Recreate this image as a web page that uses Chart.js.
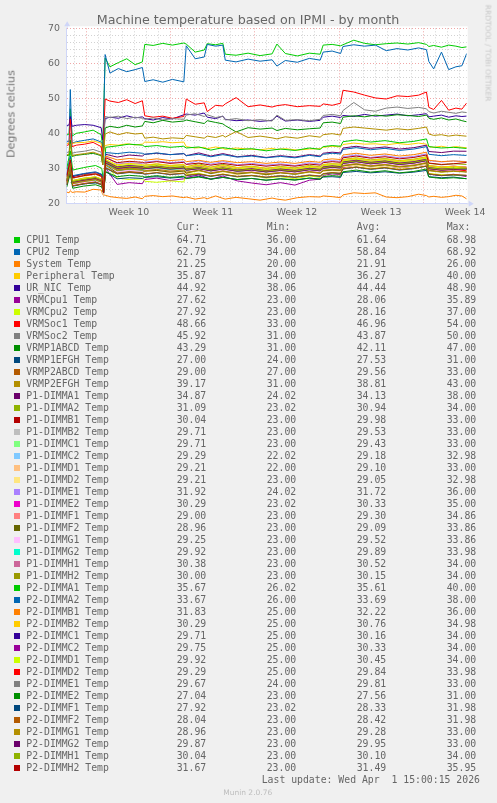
<!DOCTYPE html>
<html>
<head>
<meta charset="utf-8">
<script src="https://cdn.jsdelivr.net/npm/chart.js@4"></script>
<style>
  html, body { margin: 0; padding: 0; }
  body { width: 497px; height: 803px; background: #f0f0f0; position: relative; overflow: hidden; }
  #plot { position: absolute; left: 0; top: 0; }
  .t { position: absolute; white-space: pre; color: #666; }
  .sans { font-family: "DejaVu Sans", sans-serif; }
  .mono { font-family: "DejaVu Sans Mono", monospace; font-size: 9.8px; line-height: 12px; }
  .sw { position: absolute; width: 6px; height: 6px; }
</style>
</head>
<body>
<canvas id="plot" width="497" height="222"></canvas>
<div class="t sans" style="left:248px; top:19px; transform:translate(-50%,-50%); font-size:12.7px;">Machine temperature based on IPMI - by month</div>
<div class="t sans" style="left:11px; top:114px; transform:translate(-50%,-50%) rotate(-90deg); font-size:11.1px; color:#707070;">Degrees celcius</div>
<div class="t sans" style="left:487.5px; top:53px; transform:translate(-50%,-50%) rotate(90deg); font-size:7.5px; color:#c8c8c8;">RRDTOOL / TOBI OETIKER</div>
<div id="legend"></div>
<script>
// time axis in days from the left edge of the graph (33 day munin month view)
const xMax = 33.3;
const weekLabels = ['Week 10', 'Week 11', 'Week 12', 'Week 13', 'Week 14'];
const weekLabelDays = [5.17, 12.17, 19.17, 26.17, 33.17];
const weekStartDays = [1.67, 8.67, 15.67, 22.67, 29.67];
const firstDayLine = 0.67;

const mainDays = [0, 0.2, 0.3, 0.45, 0.8, 1.5, 2.2, 2.87, 3.0, 3.2, 3.6, 4.3, 5.0, 5.7, 6.3, 6.5, 7.2, 8.0, 8.8, 9.75,
  9.95, 10.7, 11.45, 11.7, 12.4, 13.0, 13.2, 14.1, 15.1, 16.1, 17.1, 17.5, 18.2, 19.2, 20.2, 21.1, 21.35, 22.1, 22.8, 23.0,
  23.9, 24.8, 25.7, 26.6, 27.5, 28.4, 29.3, 29.95, 30.15, 30.55, 31.2, 31.8, 32.4, 32.9, 33.3];
const clusterDays = [0, 0.3, 0.5, 1.4, 2.4, 2.92, 3.07, 3.25, 4.2, 5.2, 6.3, 6.5, 7.5, 8.6, 9.75, 9.95, 11.0, 12.0, 13.0, 14.2,
  15.4, 16.6, 17.8, 19.0, 20.2, 21.1, 21.35, 22.1, 22.8, 23.0, 24.1, 25.3, 26.5, 27.7, 28.9, 29.95, 30.15, 31.2, 32.2, 33.3];

const cpu1Temp = [39.5, 39.8, 47.0, 39.2, 40.0, 40.4, 40.9, 39.6, 36.0, 61.5, 59.0, 60.2, 61.3, 59.6, 60.4, 65.4, 65.1, 65.7, 65.2, 65.8,
  65.5, 63.2, 63.8, 65.6, 65.3, 65.7, 62.6, 62.3, 62.9, 62.2, 62.7, 65.5, 62.8, 62.1, 62.9, 62.6, 65.2, 65.4, 65.0, 65.3,
  66.6, 65.7, 65.3, 65.6, 65.8, 65.5, 65.9, 65.4, 64.8, 65.1, 64.6, 65.2, 64.9, 64.5, 64.7];
const cpu2Temp = [37.5, 37.8, 52.5, 37.2, 37.6, 38.0, 38.4, 37.5, 34.0, 62.5, 57.2, 58.5, 57.6, 58.2, 58.8, 54.8, 55.3, 54.6, 55.4, 54.7,
  65.0, 61.3, 61.8, 65.4, 64.9, 65.2, 60.9, 60.4, 61.2, 60.6, 61.0, 59.2, 60.8, 60.3, 61.4, 60.9, 63.2, 63.5, 62.8, 64.8,
  65.3, 64.9, 65.2, 63.6, 64.2, 63.8, 64.4, 63.9, 60.5, 58.4, 63.2, 58.2, 59.0, 59.3, 62.8];
const systemTemp = [23.2, 23.0, 23.6, 23.1, 23.3, 23.2, 24.0, 23.8, 22.5, 22.3, 21.9, 21.6, 21.4, 21.8, 21.3, 22.0, 22.2, 21.9, 22.1, 21.6,
  21.8, 21.2, 21.6, 21.3, 22.1, 21.4, 21.2, 21.7, 21.3, 20.9, 21.5, 21.2, 20.9, 21.6, 21.9, 21.8, 22.1, 21.9, 21.6, 22.4,
  23.0, 22.8, 23.0, 21.8, 21.6, 21.9, 22.6, 22.2, 21.8, 22.0, 21.7, 21.9, 22.3, 22.1, 21.25];
const peripheralTemp = [37.0, 37.2, 39.0, 37.1, 37.3, 37.4, 37.8, 37.2, 34.0, 36.5, 36.8, 36.6, 37.0, 36.7, 36.9, 37.5, 37.4, 37.6, 37.3, 37.5,
  36.2, 35.8, 36.0, 35.6, 36.1, 35.7, 35.4, 35.8, 35.5, 35.3, 35.7, 35.4, 35.6, 35.2, 35.5, 35.6, 36.0, 36.3, 36.1, 36.8,
  37.2, 36.9, 37.0, 36.7, 37.1, 36.8, 37.2, 36.9, 36.2, 36.0, 36.3, 35.9, 36.2, 36.0, 35.87];
const urNicTemp = [42.2, 42.4, 44.8, 42.0, 42.3, 42.5, 42.3, 41.6, 38.1, 44.2, 44.6, 44.3, 45.0, 44.4, 44.7, 44.2, 43.8, 44.5, 44.1, 45.3,
  45.5, 45.2, 45.8, 44.6, 44.2, 44.9, 44.0, 43.6, 43.8, 43.4, 43.7, 44.9, 43.5, 43.8, 43.4, 43.7, 44.6, 44.9, 44.5, 45.1,
  44.8, 45.4, 44.9, 45.2, 45.5, 45.0, 45.3, 45.6, 44.7, 44.9, 45.2, 44.6, 45.0, 44.8, 44.92];
const vrmCpu1Temp = [25.6, 31.0, 25.2, 25.8, 26.0, 25.4, 23.0, 30.0, 25.4, 25.9, 25.6, 26.8, 27.2, 26.5, 27.0, 27.4, 28.1, 26.9, 27.8, 26.4,
  25.8, 25.3, 25.9, 25.2, 26.6, 26.9, 28.0, 28.4, 28.2, 30.2, 31.0, 30.4, 30.8, 30.1, 30.6, 31.2, 28.4, 27.9, 28.3, 27.62];
const vrmCpu2Temp = [26.2, 32.0, 25.8, 26.4, 26.7, 26.0, 23.0, 31.0, 27.2, 26.8, 27.0, 26.3, 26.0, 26.4, 26.1, 28.2, 28.6, 27.7, 28.4, 27.5,
  27.9, 27.2, 27.6, 27.0, 27.8, 27.4, 28.3, 28.6, 28.4, 29.8, 30.4, 29.9, 30.3, 29.7, 30.1, 30.6, 28.5, 28.2, 28.0, 27.92];
const vrmSoc1Temp = [36.5, 36.8, 44.0, 36.2, 36.6, 36.9, 37.4, 36.2, 33.0, 49.8, 49.2, 48.8, 49.6, 48.5, 49.3, 45.0, 44.6, 44.9, 44.3, 44.8,
  49.8, 48.3, 48.7, 46.2, 48.0, 47.8, 48.4, 50.2, 47.6, 48.1, 47.5, 47.9, 48.2, 47.6, 47.9, 47.7, 48.4, 48.0, 48.6, 52.3,
  51.8, 50.9, 50.1, 49.8, 50.7, 50.5, 50.9, 51.8, 47.4, 46.8, 49.4, 46.6, 47.2, 46.9, 48.66];
const vrmSoc2Temp = [34.5, 34.7, 40.0, 34.3, 34.6, 34.9, 35.4, 34.6, 31.0, 44.8, 44.5, 44.9, 44.2, 44.6, 44.3, 44.0, 44.4, 43.8, 44.2, 44.0,
  45.2, 45.6, 44.8, 45.3, 44.5, 44.9, 43.8, 44.2, 43.6, 43.9, 43.5, 45.2, 43.7, 43.9, 43.6, 44.0, 45.1, 45.4, 45.0, 46.5,
  48.8, 46.7, 46.3, 47.2, 47.5, 47.1, 47.4, 47.0, 46.2, 45.8, 46.3, 46.0, 45.7, 46.1, 45.92];
const vrmP1abcdTemp = [33.6, 33.8, 38.0, 33.4, 33.7, 34.0, 34.3, 33.6, 31.0, 41.5, 42.0, 41.6, 42.3, 41.8, 42.1, 43.4, 43.0, 43.7, 43.2, 43.5,
  43.8, 43.3, 42.8, 43.6, 43.1, 42.7, 42.2, 40.4, 41.6, 41.2, 41.5, 40.8, 41.4, 41.0, 41.3, 41.5, 43.0, 43.2, 42.8, 44.6,
  45.0, 44.7, 45.2, 44.9, 45.3, 45.1, 44.8, 45.2, 44.3, 44.0, 44.4, 43.8, 44.1, 43.6, 43.29];
const vrmP1efghTemp = [25.4, 29.0, 25.1, 25.6, 25.8, 25.3, 24.0, 29.0, 27.0, 27.3, 27.1, 27.4, 27.6, 27.2, 27.5, 27.1, 27.7, 26.9, 27.4, 26.8,
  27.1, 26.6, 27.0, 26.7, 27.2, 26.9, 27.5, 27.6, 27.4, 28.8, 29.1, 28.7, 29.0, 28.6, 28.9, 29.4, 27.6, 27.3, 27.5, 27.00];
const vrmP2abcdTemp = [28.0, 30.5, 27.8, 28.2, 28.4, 28.1, 27.0, 31.0, 29.3, 29.6, 29.4, 29.8, 29.9, 29.5, 29.7, 29.2, 29.8, 29.0, 29.6, 28.9,
  29.2, 28.8, 29.1, 28.7, 29.3, 29.0, 29.7, 29.9, 29.8, 31.0, 31.4, 30.9, 31.2, 30.8, 31.1, 31.6, 29.6, 29.3, 29.5, 29.00];
const vrmP2efghTemp = [33.8, 34.0, 37.0, 33.6, 33.9, 34.2, 34.6, 33.8, 31.0, 39.8, 40.4, 39.6, 40.2, 39.8, 40.0, 38.6, 38.9, 38.4, 38.7, 38.5,
  39.4, 39.0, 38.6, 39.2, 38.8, 39.4, 38.9, 40.5, 38.8, 39.2, 38.7, 38.4, 39.0, 38.6, 39.3, 38.9, 39.6, 39.9, 39.5, 41.4,
  41.8, 41.5, 41.2, 40.9, 41.3, 41.0, 41.4, 41.8, 39.8, 39.4, 39.6, 39.2, 39.5, 39.3, 39.17];
const p1DimmA1 = [28.0, 33.0, 27.6, 28.4, 28.8, 28.2, 24.0, 34.0, 33.2, 33.8, 33.5, 34.0, 34.3, 33.9, 34.2, 33.6, 34.4, 33.5, 34.2, 33.3,
  33.7, 33.1, 33.6, 33.2, 33.9, 33.5, 34.3, 34.6, 34.4, 35.8, 36.3, 35.7, 36.1, 35.5, 35.9, 36.6, 34.8, 34.5, 34.9, 34.87];
const p1DimmA2 = [26.8, 31.5, 26.5, 27.2, 27.5, 26.9, 23.0, 32.0, 30.3, 30.7, 30.5, 30.9, 31.2, 30.8, 31.0, 30.4, 31.3, 30.3, 31.1, 30.2,
  30.6, 30.0, 30.5, 30.1, 30.8, 30.4, 31.1, 31.3, 31.2, 32.5, 33.0, 32.4, 32.8, 32.2, 32.6, 33.3, 31.4, 31.0, 31.3, 31.09];
const p1DimmB1 = [26.2, 31.0, 25.9, 26.6, 26.9, 26.3, 23.0, 31.5, 29.4, 29.8, 29.6, 30.0, 30.3, 29.9, 30.1, 29.5, 30.4, 29.4, 30.2, 29.3,
  29.7, 29.1, 29.6, 29.2, 29.9, 29.5, 30.2, 30.4, 30.3, 31.6, 32.1, 31.5, 31.9, 31.3, 31.7, 32.4, 30.5, 30.1, 30.4, 30.04];
const p1DimmB2 = [25.8, 30.5, 25.5, 26.2, 26.5, 25.9, 23.0, 31.0, 29.0, 29.4, 29.1, 29.5, 29.8, 29.4, 29.7, 29.0, 29.9, 28.9, 29.7, 28.8,
  29.2, 28.6, 29.1, 28.7, 29.4, 29.0, 29.7, 29.9, 29.8, 31.1, 31.6, 31.0, 31.4, 30.8, 31.2, 31.9, 30.0, 29.6, 29.9, 29.71];
const p1DimmC1 = [25.7, 30.4, 25.4, 26.1, 26.4, 25.8, 23.0, 31.0, 28.9, 29.3, 29.0, 29.4, 29.7, 29.3, 29.6, 28.9, 29.8, 28.8, 29.6, 28.7,
  29.1, 28.5, 29.0, 28.6, 29.3, 28.9, 29.6, 29.8, 29.7, 31.0, 31.5, 30.9, 31.3, 30.7, 31.1, 31.8, 29.9, 29.5, 29.8, 29.71];
const p1DimmC2 = [25.2, 29.8, 25.0, 25.7, 26.1, 25.5, 22.0, 30.5, 28.8, 29.0, 28.6, 29.3, 29.5, 29.0, 29.4, 28.5, 29.6, 28.4, 29.1, 28.6,
  28.8, 28.3, 28.9, 28.2, 29.0, 28.7, 29.4, 29.5, 29.6, 30.6, 31.2, 30.5, 31.0, 30.4, 30.9, 31.5, 29.6, 29.1, 29.5, 29.29];
const p1DimmD1 = [25.4, 29.6, 25.1, 25.6, 26.0, 25.3, 22.0, 30.0, 28.5, 29.1, 28.8, 29.0, 29.4, 28.8, 29.2, 28.6, 29.5, 28.5, 29.0, 28.3,
  28.9, 28.2, 28.7, 28.4, 28.9, 28.5, 29.3, 29.4, 29.3, 30.5, 31.0, 30.6, 30.8, 30.2, 30.7, 31.3, 29.5, 29.0, 29.4, 29.21];
const p1DimmD2 = [25.3, 29.5, 25.0, 25.8, 26.0, 25.4, 23.0, 30.0, 28.6, 28.9, 28.7, 29.1, 29.3, 28.9, 29.0, 28.4, 29.3, 28.6, 29.1, 28.2,
  28.7, 28.1, 28.8, 28.3, 28.8, 28.6, 29.2, 29.3, 29.2, 30.4, 30.9, 30.3, 30.7, 30.3, 30.6, 31.2, 29.4, 29.0, 29.3, 29.21];
const p1DimmE1 = [27.5, 33.0, 27.2, 27.9, 28.3, 27.6, 24.0, 33.5, 31.2, 31.6, 31.3, 31.8, 32.1, 31.6, 31.9, 31.2, 32.2, 31.2, 31.9, 31.0,
  31.4, 30.9, 31.3, 30.8, 31.6, 31.2, 31.9, 32.2, 32.0, 33.3, 33.8, 33.1, 33.6, 33.0, 33.4, 34.1, 32.2, 31.8, 32.1, 31.92];
const p1DimmE2 = [26.5, 32.0, 26.2, 26.8, 27.2, 26.6, 23.0, 32.5, 29.8, 30.2, 29.9, 30.3, 30.6, 30.1, 30.5, 29.8, 30.7, 29.7, 30.4, 29.6,
  30.0, 29.4, 29.9, 29.5, 30.2, 29.8, 30.5, 30.8, 30.6, 31.9, 32.4, 31.7, 32.2, 31.6, 32.0, 32.7, 30.7, 30.3, 30.6, 30.29];
const p1DimmF1 = [25.5, 31.5, 25.2, 25.9, 26.2, 25.6, 23.0, 32.0, 28.8, 29.2, 28.9, 29.3, 29.6, 29.1, 29.4, 28.8, 29.7, 28.7, 29.4, 28.6,
  29.0, 28.4, 28.9, 28.5, 29.2, 28.8, 29.5, 29.7, 29.6, 30.9, 31.4, 30.8, 31.2, 30.6, 31.0, 31.7, 29.6, 29.2, 29.4, 29.00];
const p1DimmF2 = [25.2, 30.5, 25.0, 25.6, 26.0, 25.4, 23.0, 31.0, 28.6, 29.0, 28.8, 29.2, 29.4, 28.9, 29.2, 28.6, 29.5, 28.5, 29.2, 28.4,
  28.8, 28.2, 28.7, 28.3, 29.0, 28.6, 29.3, 29.5, 29.4, 30.7, 31.2, 30.6, 31.0, 30.4, 30.8, 31.5, 29.4, 29.0, 29.3, 28.96];
const p1DimmG1 = [25.6, 30.8, 25.3, 25.9, 26.3, 25.7, 23.0, 31.2, 29.0, 29.4, 29.1, 29.5, 29.8, 29.3, 29.6, 29.0, 29.9, 28.9, 29.6, 28.8,
  29.2, 28.6, 29.1, 28.7, 29.4, 29.0, 29.7, 29.9, 29.8, 31.1, 31.6, 31.0, 31.4, 30.8, 31.2, 31.9, 29.8, 29.4, 29.6, 29.25];
const p1DimmG2 = [26.0, 31.2, 25.8, 26.4, 26.7, 26.1, 23.0, 31.5, 29.4, 29.8, 29.5, 29.9, 30.2, 29.7, 30.0, 29.4, 30.3, 29.3, 30.0, 29.2,
  29.6, 29.0, 29.5, 29.1, 29.8, 29.4, 30.1, 30.3, 30.2, 31.5, 32.0, 31.4, 31.8, 31.2, 31.6, 32.3, 30.3, 29.9, 30.1, 29.92];
const p1DimmH1 = [26.6, 31.8, 26.3, 27.0, 27.3, 26.7, 23.0, 32.0, 30.0, 30.4, 30.1, 30.5, 30.8, 30.3, 30.6, 30.0, 30.9, 29.9, 30.6, 29.8,
  30.2, 29.6, 30.1, 29.7, 30.4, 30.0, 30.7, 30.9, 30.8, 32.1, 32.6, 32.0, 32.4, 31.8, 32.2, 32.9, 30.8, 30.4, 30.6, 30.38];
const p1DimmH2 = [26.3, 31.5, 26.0, 26.6, 27.0, 26.4, 23.0, 31.8, 29.6, 30.0, 29.8, 30.2, 30.4, 30.0, 30.3, 29.6, 30.5, 29.6, 30.3, 29.5,
  29.9, 29.3, 29.8, 29.4, 30.1, 29.7, 30.4, 30.6, 30.5, 31.8, 32.3, 31.7, 32.1, 31.5, 31.9, 32.6, 30.5, 30.1, 30.3, 30.00];
const p2DimmA1 = [29.8, 35.0, 29.5, 30.2, 30.8, 30.0, 26.0, 36.0, 36.4, 36.9, 36.6, 36.2, 36.5, 36.0, 36.3, 35.8, 36.1, 35.2, 35.9, 35.3,
  35.6, 35.0, 35.5, 35.1, 35.8, 35.4, 36.2, 36.5, 36.3, 37.6, 38.1, 37.5, 37.9, 37.3, 37.7, 38.4, 36.2, 35.8, 36.0, 35.67];
const p2DimmA2 = [28.2, 33.5, 27.9, 28.5, 29.0, 28.3, 26.0, 34.5, 34.2, 34.6, 34.3, 34.0, 34.4, 33.9, 34.2, 33.6, 34.0, 33.3, 33.9, 33.2,
  33.5, 33.0, 33.4, 33.0, 33.7, 33.3, 34.0, 34.3, 34.1, 35.4, 35.9, 35.3, 35.7, 35.1, 35.5, 36.2, 34.0, 33.6, 33.9, 33.67];
const p2DimmB1 = [27.5, 32.5, 27.2, 27.8, 28.3, 27.6, 25.0, 33.5, 32.4, 32.8, 32.5, 32.3, 32.7, 32.2, 32.5, 31.9, 32.3, 31.7, 32.2, 31.6,
  31.9, 31.4, 31.8, 31.4, 32.0, 31.7, 32.4, 32.7, 32.5, 33.8, 34.3, 33.7, 34.1, 33.5, 33.9, 34.6, 32.3, 31.9, 32.1, 31.83];
const p2DimmB2 = [26.8, 31.5, 26.5, 27.1, 27.6, 26.9, 25.0, 32.5, 31.0, 31.4, 31.1, 30.9, 31.3, 30.8, 31.1, 30.5, 30.9, 30.3, 30.8, 30.2,
  30.5, 30.0, 30.4, 30.0, 30.6, 30.3, 31.0, 31.3, 31.1, 32.4, 32.9, 32.3, 32.7, 32.1, 32.5, 33.2, 30.8, 30.4, 30.6, 30.29];
const p2DimmC1 = [26.4, 31.0, 26.1, 26.7, 27.2, 26.5, 25.0, 32.0, 30.4, 30.8, 30.5, 30.3, 30.7, 30.2, 30.5, 29.9, 30.3, 29.7, 30.2, 29.6,
  29.9, 29.4, 29.8, 29.4, 30.0, 29.7, 30.4, 30.7, 30.5, 31.8, 32.3, 31.7, 32.1, 31.5, 31.9, 32.6, 30.2, 29.8, 30.0, 29.71];
const p2DimmC2 = [26.5, 31.2, 26.2, 26.8, 27.3, 26.6, 25.0, 32.2, 30.5, 30.9, 30.6, 30.4, 30.8, 30.3, 30.6, 30.0, 30.4, 29.8, 30.3, 29.7,
  30.0, 29.5, 29.9, 29.5, 30.1, 29.8, 30.5, 30.8, 30.6, 31.9, 32.4, 31.8, 32.2, 31.6, 32.0, 32.7, 30.3, 29.9, 30.1, 29.75];
const p2DimmD1 = [26.6, 31.4, 26.3, 27.0, 27.4, 26.7, 25.0, 32.4, 30.7, 31.1, 30.8, 30.5, 30.9, 30.4, 30.7, 30.1, 30.5, 29.9, 30.4, 29.8,
  30.2, 29.6, 30.1, 29.7, 30.3, 30.0, 30.7, 31.0, 30.8, 32.1, 32.6, 32.0, 32.4, 31.8, 32.2, 32.9, 30.5, 30.1, 30.3, 29.92];
const p2DimmD2 = [26.1, 30.8, 25.8, 26.4, 26.9, 26.2, 25.0, 31.8, 30.1, 30.5, 30.2, 30.0, 30.4, 29.9, 30.2, 29.6, 30.0, 29.4, 29.9, 29.3,
  29.6, 29.1, 29.5, 29.1, 29.7, 29.4, 30.1, 30.4, 30.2, 31.5, 32.0, 31.4, 31.8, 31.2, 31.6, 32.3, 29.9, 29.5, 29.7, 29.29];
const p2DimmE1 = [26.0, 30.6, 25.7, 26.3, 26.8, 26.1, 24.0, 31.5, 30.0, 30.4, 30.1, 29.9, 30.3, 29.8, 30.1, 29.5, 29.9, 29.3, 29.8, 29.2,
  29.5, 29.0, 29.4, 29.0, 29.6, 29.3, 30.0, 30.3, 30.1, 31.4, 31.9, 31.3, 31.7, 31.1, 31.5, 32.2, 29.9, 29.5, 29.8, 29.67];
const p2DimmE2 = [24.6, 28.5, 24.3, 24.9, 25.3, 24.7, 23.0, 29.0, 27.6, 28.0, 27.7, 27.5, 27.9, 27.4, 27.7, 27.1, 27.5, 26.9, 27.4, 26.8,
  27.1, 26.6, 27.0, 26.6, 27.2, 26.9, 27.6, 27.9, 27.7, 29.0, 29.5, 28.9, 29.3, 28.7, 29.1, 29.8, 27.5, 27.1, 27.3, 27.04];
const p2DimmF1 = [25.2, 29.3, 24.9, 25.5, 26.0, 25.3, 23.0, 30.0, 28.4, 28.8, 28.5, 28.3, 28.7, 28.2, 28.5, 27.9, 28.3, 27.7, 28.2, 27.6,
  27.9, 27.4, 27.8, 27.4, 28.0, 27.7, 28.4, 28.7, 28.5, 29.8, 30.3, 29.7, 30.1, 29.5, 29.9, 30.6, 28.3, 27.9, 28.1, 27.92];
const p2DimmF2 = [25.3, 29.5, 25.0, 25.6, 26.1, 25.4, 23.0, 30.2, 28.5, 28.9, 28.6, 28.4, 28.8, 28.3, 28.6, 28.0, 28.4, 27.8, 28.3, 27.7,
  28.0, 27.5, 27.9, 27.5, 28.1, 27.8, 28.5, 28.8, 28.6, 29.9, 30.4, 29.8, 30.2, 29.6, 30.0, 30.7, 28.4, 28.0, 28.2, 28.04];
const p2DimmG1 = [25.9, 30.2, 25.6, 26.2, 26.7, 26.0, 23.0, 31.0, 29.4, 29.8, 29.5, 29.3, 29.7, 29.2, 29.5, 28.9, 29.3, 28.7, 29.2, 28.6,
  28.9, 28.4, 28.8, 28.4, 29.0, 28.7, 29.4, 29.7, 29.5, 30.8, 31.3, 30.7, 31.1, 30.5, 30.9, 31.6, 29.3, 28.9, 29.1, 28.96];
const p2DimmG2 = [26.4, 30.8, 26.1, 26.7, 27.2, 26.5, 23.0, 31.5, 30.0, 30.4, 30.1, 29.9, 30.3, 29.8, 30.1, 29.5, 29.9, 29.3, 29.8, 29.2,
  29.5, 29.0, 29.4, 29.0, 29.6, 29.3, 30.0, 30.3, 30.1, 31.4, 31.9, 31.3, 31.7, 31.1, 31.5, 32.2, 29.9, 29.5, 29.7, 29.87];
const p2DimmH1 = [26.5, 31.0, 26.2, 26.8, 27.3, 26.6, 23.0, 31.8, 30.2, 30.6, 30.3, 30.1, 30.5, 30.0, 30.3, 29.7, 30.1, 29.5, 30.0, 29.4,
  29.7, 29.2, 29.6, 29.2, 29.8, 29.5, 30.2, 30.5, 30.3, 31.6, 32.1, 31.5, 31.9, 31.3, 31.7, 32.4, 30.1, 29.7, 29.9, 30.04];
const p2DimmH2 = [27.6, 32.4, 27.3, 27.9, 28.4, 27.7, 23.0, 33.0, 31.6, 32.0, 31.7, 31.5, 31.9, 31.4, 31.7, 31.1, 31.5, 30.9, 31.4, 30.8,
  31.1, 30.6, 31.0, 30.6, 31.2, 30.9, 31.6, 31.9, 31.7, 33.0, 33.5, 32.9, 33.3, 32.7, 33.1, 33.8, 31.5, 31.1, 31.3, 31.67];

const seriesNames = ['CPU1 Temp', 'CPU2 Temp', 'System Temp', 'Peripheral Temp', 'UR_NIC Temp', 'VRMCpu1 Temp', 'VRMCpu2 Temp',
  'VRMSoc1 Temp', 'VRMSoc2 Temp', 'VRMP1ABCD Temp', 'VRMP1EFGH Temp', 'VRMP2ABCD Temp', 'VRMP2EFGH Temp',
  'P1-DIMMA1 Temp', 'P1-DIMMA2 Temp', 'P1-DIMMB1 Temp', 'P1-DIMMB2 Temp', 'P1-DIMMC1 Temp', 'P1-DIMMC2 Temp', 'P1-DIMMD1 Temp', 'P1-DIMMD2 Temp',
  'P1-DIMME1 Temp', 'P1-DIMME2 Temp', 'P1-DIMMF1 Temp', 'P1-DIMMF2 Temp', 'P1-DIMMG1 Temp', 'P1-DIMMG2 Temp', 'P1-DIMMH1 Temp', 'P1-DIMMH2 Temp',
  'P2-DIMMA1 Temp', 'P2-DIMMA2 Temp', 'P2-DIMMB1 Temp', 'P2-DIMMB2 Temp', 'P2-DIMMC1 Temp', 'P2-DIMMC2 Temp', 'P2-DIMMD1 Temp', 'P2-DIMMD2 Temp',
  'P2-DIMME1 Temp', 'P2-DIMME2 Temp', 'P2-DIMMF1 Temp', 'P2-DIMMF2 Temp', 'P2-DIMMG1 Temp', 'P2-DIMMG2 Temp', 'P2-DIMMH1 Temp', 'P2-DIMMH2 Temp'];
const seriesValues = [cpu1Temp, cpu2Temp, systemTemp, peripheralTemp, urNicTemp, vrmCpu1Temp, vrmCpu2Temp,
  vrmSoc1Temp, vrmSoc2Temp, vrmP1abcdTemp, vrmP1efghTemp, vrmP2abcdTemp, vrmP2efghTemp,
  p1DimmA1, p1DimmA2, p1DimmB1, p1DimmB2, p1DimmC1, p1DimmC2, p1DimmD1, p1DimmD2,
  p1DimmE1, p1DimmE2, p1DimmF1, p1DimmF2, p1DimmG1, p1DimmG2, p1DimmH1, p1DimmH2,
  p2DimmA1, p2DimmA2, p2DimmB1, p2DimmB2, p2DimmC1, p2DimmC2, p2DimmD1, p2DimmD2,
  p2DimmE1, p2DimmE2, p2DimmF1, p2DimmF2, p2DimmG1, p2DimmG2, p2DimmH1, p2DimmH2];
// munin's default palette, wraps after 29 colours
const seriesColors = ['#00CC00', '#0066B3', '#FF8000', '#FFCC00', '#330099', '#990099', '#CCFF00', '#FF0000', '#808080',
  '#008F00', '#00487D', '#B35A00', '#B38F00', '#6B006B', '#8FB300', '#B30000', '#BEBEBE', '#80FF80', '#80C9FF',
  '#FFC080', '#FFE680', '#AA80FF', '#EE00CC', '#FF8080', '#666600', '#FFBFFF', '#00FFCC', '#CC6699', '#999900',
  '#00CC00', '#0066B3', '#FF8000', '#FFCC00', '#330099', '#990099', '#CCFF00', '#FF0000', '#808080',
  '#008F00', '#00487D', '#B35A00', '#B38F00', '#6B006B', '#8FB300', '#B30000'];

const curValues = [64.71, 62.79, 21.25, 35.87, 44.92, 27.62, 27.92, 48.66, 45.92, 43.29, 27.00, 29.00, 39.17,
  34.87, 31.09, 30.04, 29.71, 29.71, 29.29, 29.21, 29.21, 31.92, 30.29, 29.00, 28.96, 29.25, 29.92, 30.38, 30.00,
  35.67, 33.67, 31.83, 30.29, 29.71, 29.75, 29.92, 29.29, 29.67, 27.04, 27.92, 28.04, 28.96, 29.87, 30.04, 31.67];
const minValues = [36.00, 34.00, 20.00, 34.00, 38.06, 23.00, 23.00, 33.00, 31.00, 31.00, 24.00, 27.00, 31.00,
  24.02, 23.02, 23.00, 23.00, 23.00, 22.02, 22.00, 23.00, 24.02, 23.02, 23.00, 23.00, 23.00, 23.00, 23.00, 23.00,
  26.02, 26.00, 25.00, 25.00, 25.00, 25.00, 25.00, 25.00, 24.00, 23.00, 23.02, 23.00, 23.00, 23.00, 23.00, 23.00];
const avgValues = [61.64, 58.84, 21.91, 36.27, 44.44, 28.06, 28.16, 46.96, 43.87, 42.11, 27.53, 29.56, 38.81,
  34.13, 30.94, 29.98, 29.53, 29.43, 29.18, 29.10, 29.05, 31.72, 30.33, 29.30, 29.09, 29.52, 29.89, 30.52, 30.15,
  35.61, 33.69, 32.22, 30.76, 30.16, 30.33, 30.45, 29.84, 29.81, 27.56, 28.33, 28.42, 29.28, 29.95, 30.10, 31.49];
const maxValues = [68.98, 68.92, 26.00, 40.00, 48.90, 35.89, 37.00, 54.00, 50.00, 47.00, 31.00, 33.00, 43.00,
  38.00, 34.00, 33.00, 33.00, 33.00, 32.98, 33.00, 32.98, 36.00, 35.00, 34.86, 33.86, 33.86, 33.98, 34.00, 34.00,
  40.00, 38.00, 36.00, 34.98, 34.00, 34.00, 34.00, 33.98, 33.00, 31.00, 31.98, 31.98, 33.00, 33.00, 34.00, 35.95];
const lastUpdate = 'Last update: Wed Apr  1 15:00:15 2026';
const muninVersion = 'Munin 2.0.76';

const gridMinor = 'rgba(143,143,143,0.4)';
const gridMajor = 'rgba(224,80,80,0.5)';
const axisColor = '#CFD6F8';
const near = (a, b) => Math.abs(a - b) < 0.001;

const dayLines = [];
for (let d = firstDayLine; d < xMax; d += 1) dayLines.push(+d.toFixed(2));
const xTicks = dayLines.concat(weekLabelDays).sort((a, b) => a - b);

const datasets = seriesValues.map((vals, i) => {
  const xs = vals.length === mainDays.length ? mainDays : clusterDays;
  return {
    label: seriesNames[i],
    data: vals.map((v, j) => ({ x: xs[j], y: v })),
    borderColor: seriesColors[i],
    borderWidth: 1,
    pointRadius: 0,
    fill: false,
    tension: 0,
    order: seriesValues.length - i
  };
});

const muninCanvas = {
  id: 'muninCanvas',
  beforeDraw(chart) {
    const { ctx, chartArea: a } = chart;
    ctx.save();
    ctx.fillStyle = '#ffffff';
    ctx.fillRect(a.left, a.top - 2, a.right - a.left + 1, a.bottom - a.top + 2);
    ctx.restore();
  },
  afterDraw(chart) {
    const { ctx, chartArea: a } = chart;
    ctx.save();
    ctx.fillStyle = axisColor;
    ctx.strokeStyle = axisColor;
    ctx.lineWidth = 1;
    ctx.beginPath();
    ctx.moveTo(a.right, a.bottom + 0.5);
    ctx.lineTo(a.right + 2, a.bottom + 0.5);
    ctx.stroke();
    ctx.beginPath();
    ctx.moveTo(a.right + 2, a.bottom - 2.5);
    ctx.lineTo(a.right + 7, a.bottom + 0.5);
    ctx.lineTo(a.right + 2, a.bottom + 3.5);
    ctx.fill();
    ctx.beginPath();
    ctx.moveTo(a.left - 2.5, a.top - 2);
    ctx.lineTo(a.left + 0.5, a.top - 7);
    ctx.lineTo(a.left + 3.5, a.top - 2);
    ctx.fill();
    ctx.beginPath();
    ctx.moveTo(a.left + 0.5, a.top - 2);
    ctx.lineTo(a.left + 0.5, a.top);
    ctx.stroke();
    ctx.restore();
  }
};

const tickFont = { family: 'DejaVu Sans', size: 9.4 };

new Chart(document.getElementById('plot'), {
  type: 'line',
  data: { datasets: datasets },
  options: {
    responsive: false,
    animation: false,
    events: [],
    layout: { padding: { left: 0, top: 28.3, right: 30.3, bottom: 0 } },
    plugins: { legend: { display: false }, title: { display: false }, tooltip: { enabled: false } },
    scales: {
      x: {
        type: 'linear',
        min: 0,
        max: xMax,
        afterBuildTicks: (scale) => { scale.ticks = xTicks.map(v => ({ value: v })); },
        afterFit: (scale) => { scale.height = 18.7; },
        grid: {
          drawTicks: false,
          color: (ctx) => {
            const v = ctx.tick ? ctx.tick.value : 0;
            if (weekLabelDays.some(w => near(w, v))) return 'rgba(0,0,0,0)';
            if (weekStartDays.some(w => near(w, v))) return gridMajor;
            return gridMinor;
          }
        },
        border: { display: true, color: axisColor, dash: [1, 2] },
        ticks: {
          autoSkip: false,
          maxRotation: 0,
          padding: 3.5,
          color: '#666',
          font: tickFont,
          callback: (v) => {
            const k = weekLabelDays.findIndex(w => near(w, v));
            return k >= 0 ? weekLabels[k] : '';
          }
        }
      },
      y: {
        type: 'linear',
        min: 20,
        max: 70,
        afterFit: (scale) => { scale.width = 66.7; },
        grid: {
          drawTicks: false,
          color: (ctx) => (ctx.tick && ctx.tick.value % 10 === 0) ? gridMajor : gridMinor
        },
        border: { display: true, color: axisColor, dash: [1, 2] },
        ticks: {
          stepSize: 2,
          autoSkip: false,
          padding: 6.7,
          color: '#666',
          font: tickFont,
          callback: (v) => v % 10 === 0 ? String(v) : ''
        }
      }
    }
  },
  plugins: [muninCanvas]
});

// legend table, laid out like rrdtool's
const legend = document.getElementById('legend');
function put(text, left, centerY, cls, extra) {
  const el = document.createElement('div');
  el.className = 't ' + cls;
  el.style.left = left + 'px';
  el.style.top = (centerY - 6) + 'px';
  if (extra) el.style.cssText += extra;
  el.textContent = text;
  legend.appendChild(el);
}
const colLeft = [176.7, 266.7, 356.7, 446.7];
['Cur:', 'Min:', 'Avg:', 'Max:'].forEach((h, c) => put(h, colLeft[c], 227.3, 'mono'));
seriesNames.forEach((name, i) => {
  const cy = 239.7 + 12 * i;
  const sw = document.createElement('div');
  sw.className = 'sw';
  sw.style.left = '14px';
  sw.style.top = (cy - 3) + 'px';
  sw.style.background = seriesColors[i];
  legend.appendChild(sw);
  put(name, 26.3, cy, 'mono');
  [curValues[i], minValues[i], avgValues[i], maxValues[i]].forEach((v, c) => put(v.toFixed(2), colLeft[c], cy, 'mono'));
});
put(lastUpdate, 261.7, 779.7, 'mono');
const mv = document.createElement('div');
mv.className = 't sans';
mv.style.cssText += 'left:247.7px; top:791.5px; transform:translate(-50%,-50%); font-size:7.5px; color:#bdbdbd;';
mv.textContent = muninVersion;
legend.appendChild(mv);
</script>
</body>
</html>
